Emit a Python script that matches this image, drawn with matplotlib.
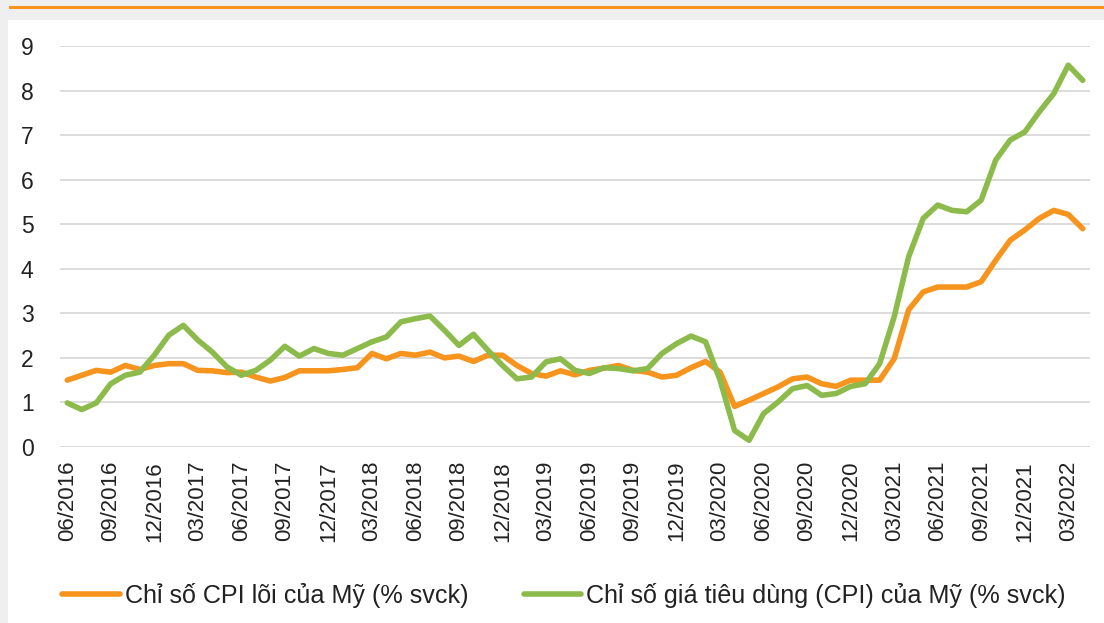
import numpy as np
import matplotlib
matplotlib.use("Agg")
import matplotlib.pyplot as plt
from matplotlib.patches import Rectangle
from matplotlib.lines import Line2D

plt.rcParams['font.family'] = ['Liberation Sans', 'DejaVu Sans']

# monthly, 06/2016 .. 04/2022
months = ["%02d/%d" % (m, y) for y in range(2016, 2023) for m in range(1, 13)]
months = months[months.index("06/2016"):months.index("04/2022") + 1]

core_cpi = [1.50, 1.61, 1.72, 1.68, 1.83, 1.74, 1.83, 1.87, 1.87, 1.72,
            1.71, 1.67, 1.68, 1.57, 1.48, 1.56, 1.71, 1.71, 1.71, 1.74,
            1.78, 2.10, 1.98, 2.10, 2.06, 2.13, 2.00, 2.04, 1.92, 2.06,
            2.06, 1.83, 1.65, 1.59, 1.71, 1.62, 1.72, 1.77, 1.83, 1.72,
            1.68, 1.57, 1.61, 1.78, 1.92, 1.68, 0.91, 1.05, 1.20, 1.35,
            1.53, 1.57, 1.42, 1.36, 1.50, 1.50, 1.50, 1.98, 3.08, 3.48,
            3.59, 3.59, 3.59, 3.71, 4.19, 4.64, 4.87, 5.13, 5.31, 5.22,
            4.90]

cpi = [0.99, 0.84, 0.99, 1.42, 1.61, 1.68, 2.06, 2.51, 2.73, 2.40,
       2.13, 1.80, 1.61, 1.72, 1.95, 2.26, 2.04, 2.21, 2.10, 2.06,
       2.21, 2.36, 2.47, 2.81, 2.88, 2.94, 2.62, 2.28, 2.53, 2.17,
       1.83, 1.53, 1.57, 1.91, 1.98, 1.72, 1.65, 1.78, 1.76, 1.71,
       1.76, 2.10, 2.32, 2.49, 2.36, 1.50, 0.37, 0.15, 0.75, 1.01,
       1.31, 1.38, 1.16, 1.20, 1.36, 1.42, 1.87, 2.92, 4.27, 5.13,
       5.43, 5.31, 5.28, 5.54, 6.44, 6.89, 7.07, 7.52, 7.93, 8.57,
       8.23]

labels = ["Chỉ số CPI lõi của Mỹ (% svck)",
          "Chỉ số giá tiêu dùng (CPI) của Mỹ (% svck)"]

orange = "#f7941d"
green = "#8cbb4b"

fig = plt.figure(figsize=(11.04, 6.23), dpi=100, facecolor="#efefef")
fig.patches.append(Rectangle((8 / 1104, 0), 1, 1 - 20 / 623, transform=fig.transFigure,
                             facecolor="white", edgecolor="none", zorder=-1))
fig.lines.append(Line2D([10 / 1104, 1], [1 - 7 / 623] * 2, transform=fig.transFigure,
                        color=orange, lw=2.2, zorder=-1))

ax = fig.add_axes([60 / 1104, 1 - 447 / 623, 1030 / 1104, 401 / 623], zorder=2)
ax.set_facecolor("none")
x = np.arange(len(months))
ax.plot(x, core_cpi, color=orange, lw=4, solid_joinstyle="round", solid_capstyle="round",
        label=labels[0], zorder=3)
ax.plot(x, cpi, color=green, lw=4, solid_joinstyle="round", solid_capstyle="round",
        label=labels[1], zorder=4)

ax.set_xlim(-0.5, len(months) - 0.5)
ax.set_ylim(0, 9)
ax.set_yticks(range(10))
ax.grid(axis="y", color="#d9d9d9", lw=1.3)
ax.set_axisbelow(True)
for s in ax.spines.values():
    s.set_visible(False)
ax.set_xticks(x[::3])
ax.set_xticklabels(months[::3], rotation=90)
ax.tick_params(axis="both", length=0, colors="#222222")
ax.tick_params(axis="y", pad=19, labelsize=16.5)
ax.tick_params(axis="x", pad=10, labelsize=16)

fig.legend(loc="center left", bbox_to_anchor=(62 / 1104, 1 - 595 / 623), ncol=2,
           frameon=False, fontsize=18.1, handlelength=2.3, handletextpad=0.2,
           columnspacing=2.2, borderpad=0, borderaxespad=0, labelcolor="#222222")

fig.savefig("out.png", dpi=100, facecolor=fig.get_facecolor())
